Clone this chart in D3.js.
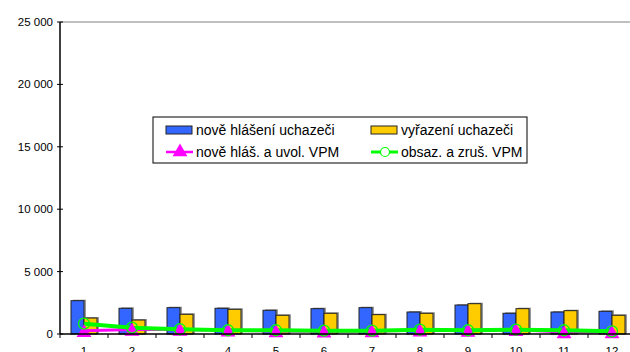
<!DOCTYPE html>
<html>
<head>
<meta charset="utf-8">
<script src="https://cdn.jsdelivr.net/npm/d3@7"></script>
<style>
  body { margin: 0; background: #fff; }
  text { font-family: "Liberation Sans", Arial, sans-serif; }
</style>
</head>
<body>
<div id="chart"></div>
<script>
// data
var months = [1, 2, 3, 4, 5, 6, 7, 8, 9, 10, 11, 12]
var noveHlaseni = [2670, 2060, 2110, 2060, 1900, 2030, 2110, 1760, 2320, 1660, 1760, 1820]
var vyrazeni    = [1280, 1120, 1580, 1980, 1500, 1660, 1550, 1660, 2430, 2030, 1870, 1500]
var noveVPM     = [260, 370, 370, 300, 240, 215, 240, 300, 290, 345, 160, 160]
var obsazVPM    = [830, 510, 380, 300, 300, 265, 265, 345, 300, 345, 300, 215]
var yTicks = [0, 5000, 10000, 15000, 20000, 25000]

var width = 630, height = 352
var margin = {top: 22, left: 60, bottom: 18}
var plotRight = 636

var svg = d3.select("#chart").append("svg")
    .attr("width", width)
    .attr("height", height)

var x = d3.scaleBand().domain(months).range([margin.left, plotRight])
var y = d3.scaleLinear().domain([0, 25000]).range([height - margin.bottom, margin.top])

var fmt = function(v) { return d3.format(",")(v).replace(/,/g, " ") }

// top border line
svg.append("line")
    .attr("x1", margin.left).attr("x2", width)
    .attr("y1", y(25000)).attr("y2", y(25000))
    .attr("stroke", "#808080").attr("stroke-width", 1)

// bars
var bw = 13
var series = [
  {vals: noveHlaseni, color: "#3366FF", off: -bw},
  {vals: vyrazeni, color: "#FFCC00", off: 0}
]
series.forEach(function(s) {
  var g = svg.append("g")
  g.selectAll("rect.sh").data(s.vals).enter().append("rect")
    .attr("x", function(d, i) { return x(months[i]) + x.bandwidth() / 2 + s.off + 2 })
    .attr("y", function(d) { return y(d) - 1 })
    .attr("width", bw).attr("height", function(d) { return y(0) - y(d) + 1 })
    .attr("fill", "#999")
  g.selectAll("rect.b").data(s.vals).enter().append("rect")
    .attr("x", function(d, i) { return x(months[i]) + x.bandwidth() / 2 + s.off })
    .attr("y", function(d) { return y(d) })
    .attr("width", bw).attr("height", function(d) { return y(0) - y(d) })
    .attr("fill", s.color).attr("stroke", "#222").attr("stroke-width", 1)
})

var cx = function(d, i) { return x(months[i]) + x.bandwidth() / 2 }
var line = d3.line().x(cx).y(function(d) { return y(d) })
var tri = d3.symbol().type(d3.symbolTriangle).size(95)

// magenta line, then green line, then markers on top
svg.append("path").datum(noveVPM)
    .attr("d", line).attr("fill", "none")
    .attr("stroke", "#FF00FF").attr("stroke-width", 3)
svg.append("path").datum(obsazVPM)
    .attr("d", line).attr("fill", "none")
    .attr("stroke", "#00FF00").attr("stroke-width", 4)
svg.selectAll("path.tri").data(noveVPM).enter().append("path")
    .attr("d", tri)
    .attr("transform", function(d, i) { return "translate(" + cx(d, i) + "," + (y(d) + 2) + ")" })
    .attr("fill", "#FF00FF")
svg.selectAll("circle.c").data(obsazVPM).enter().append("circle")
    .attr("cx", cx).attr("cy", function(d) { return y(d) })
    .attr("r", 5.5).attr("fill", "none")
    .attr("stroke", "#00FF00").attr("stroke-width", 1.3)

// y axis
svg.append("line")
    .attr("x1", margin.left).attr("x2", margin.left)
    .attr("y1", y(25000)).attr("y2", y(0))
    .attr("stroke", "#000").attr("stroke-width", 1.5)
svg.selectAll("line.yt").data(yTicks).enter().append("line")
    .attr("x1", margin.left - 3).attr("x2", margin.left + 3)
    .attr("y1", function(d) { return y(d) }).attr("y2", function(d) { return y(d) })
    .attr("stroke", "#000")
svg.selectAll("text.yl").data(yTicks).enter().append("text")
    .attr("x", margin.left - 7).attr("y", function(d) { return y(d) + 4 })
    .attr("text-anchor", "end").attr("font-size", 11.5)
    .text(fmt)

// x axis
svg.append("line")
    .attr("x1", margin.left).attr("x2", width)
    .attr("y1", y(0)).attr("y2", y(0))
    .attr("stroke", "#000").attr("stroke-width", 1.5)
svg.selectAll("line.xt").data(months).enter().append("line")
    .attr("x1", function(d) { return x(d) }).attr("x2", function(d) { return x(d) })
    .attr("y1", y(0)).attr("y2", y(0) + 4)
    .attr("stroke", "#000")
svg.selectAll("text.xl").data(months).enter().append("text")
    .attr("x", function(d) { return x(d) + x.bandwidth() / 2 }).attr("y", y(0) + 21)
    .attr("text-anchor", "middle").attr("font-size", 11.5)
    .text(function(d) { return d })

// legend
var lg = svg.append("g").attr("transform", "translate(153,117)")
lg.append("rect").attr("width", 374).attr("height", 46)
    .attr("fill", "#fff").attr("stroke", "#000").attr("stroke-width", 1)
var items = [
  {label: "nově hlášení uchazeči", type: "bar", color: "#3366FF", x: 13, y: 13},
  {label: "vyřazení uchazeči", type: "bar", color: "#FFCC00", x: 218, y: 13},
  {label: "nově hláš. a uvol. VPM", type: "tri", color: "#FF00FF", x: 13, y: 35},
  {label: "obsaz. a zruš. VPM", type: "circ", color: "#00FF00", x: 218, y: 35}
]
items.forEach(function(it) {
  var g = lg.append("g").attr("transform", "translate(" + it.x + "," + it.y + ")")
  if (it.type === "bar") {
    g.append("rect").attr("x", 0).attr("y", -4).attr("width", 26).attr("height", 8)
      .attr("fill", it.color).attr("stroke", "#222")
  } else {
    g.append("line").attr("x1", 0).attr("x2", 27).attr("y1", 0).attr("y2", 0)
      .attr("stroke", it.color).attr("stroke-width", it.type === "circ" ? 3 : 2.5)
    if (it.type === "tri") {
      g.append("path").attr("d", tri).attr("transform", "translate(14,0)").attr("fill", it.color)
    } else {
      g.append("circle").attr("cx", 14).attr("cy", 0).attr("r", 4.5)
        .attr("fill", "#fff").attr("stroke", it.color).attr("stroke-width", 1.2)
    }
  }
  g.append("text").attr("x", 30).attr("y", 5).attr("font-size", 14).text(it.label)
})
</script>
</body>
</html>
